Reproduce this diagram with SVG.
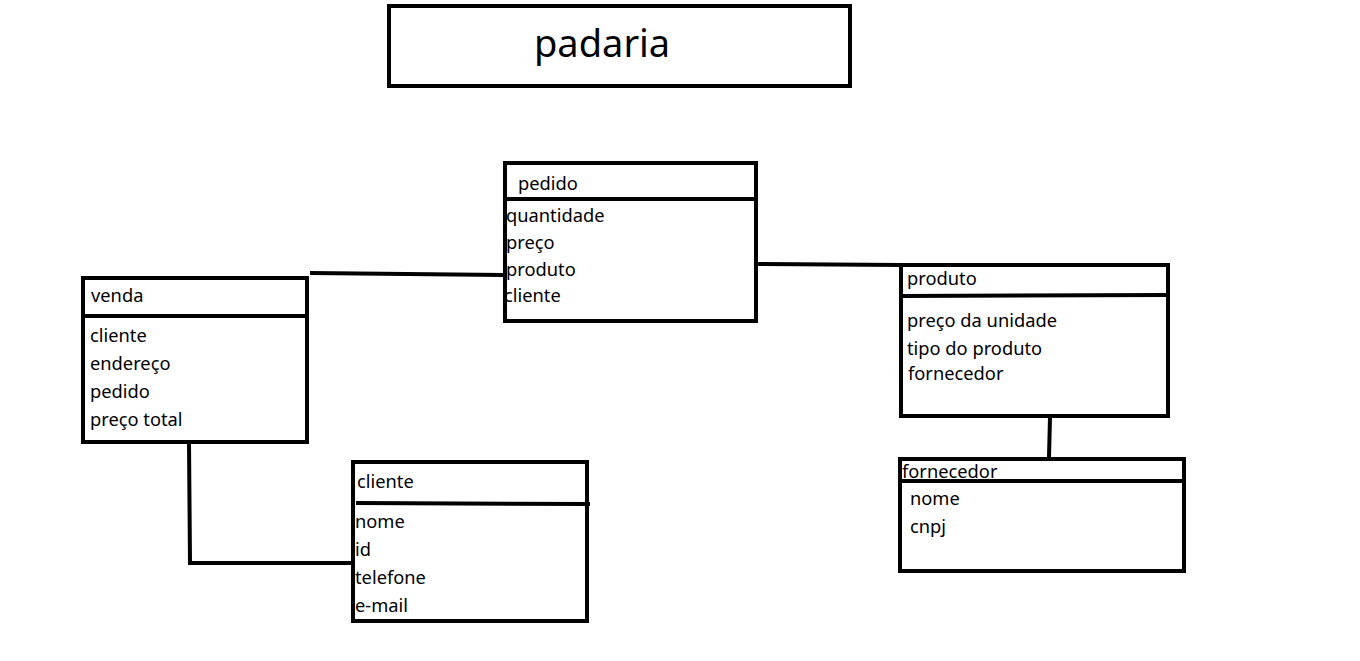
<svg xmlns="http://www.w3.org/2000/svg" width="1360" height="661" viewBox="0 0 1360 661">
<style>
.box{fill:none;stroke:#000;stroke-width:4}
.div{stroke:#000;stroke-width:4}
.ln{fill:none;stroke:#000;stroke-width:4}
text{font-family:"Noto Sans","DejaVu Sans",sans-serif;font-size:18.3px;fill:#000}
.title{font-size:38px}
</style>
<rect width="1360" height="661" fill="#fff"/>
<g id="title">
<rect class="box" x="389" y="6" width="461" height="80"/>
<text class="title" x="534" y="57">padaria</text>
</g>
<g id="connectors">
<polyline class="ln" points="310,273 503,275"/>
<polyline class="ln" points="758,264 902,265"/>
<polyline class="ln" points="189,443 190,563 352,563"/>
<polyline class="ln" points="1050,417 1049,457"/>
</g>
<g id="pedido">
<rect class="box" x="505" y="163" width="251" height="158"/>
<line class="div" x1="505" y1="199" x2="756" y2="199"/>
<text x="518" y="190">pedido</text>
<text x="506" y="222">quantidade</text>
<text x="506" y="249">preço</text>
<text x="506" y="276">produto</text>
<text x="504" y="302">cliente</text>
</g>
<g id="venda">
<rect class="box" x="83" y="278" width="224" height="164"/>
<line class="div" x1="83" y1="316" x2="307" y2="316"/>
<text x="91" y="302">venda</text>
<text x="90" y="342">cliente</text>
<text x="90" y="370">endereço</text>
<text x="90" y="398">pedido</text>
<text x="90" y="426">preço total</text>
</g>
<g id="cliente">
<rect class="box" x="353" y="462" width="234" height="159"/>
<line class="div" x1="356" y1="503" x2="590" y2="504"/>
<text x="357" y="488">cliente</text>
<text x="355" y="528">nome</text>
<text x="355" y="556">id</text>
<text x="355" y="584">telefone</text>
<text x="355" y="612">e-mail</text>
</g>
<g id="produto">
<rect class="box" x="901" y="265" width="267" height="151"/>
<line class="div" x1="901" y1="296" x2="1168" y2="295"/>
<text x="907" y="285">produto</text>
<text x="907" y="327">preço da unidade</text>
<text x="907" y="355">tipo do produto</text>
<text x="908" y="380">fornecedor</text>
</g>
<g id="fornecedor">
<rect class="box" x="900" y="459" width="284" height="112"/>
<line class="div" x1="900" y1="481" x2="1184" y2="481"/>
<text x="902" y="478">fornecedor</text>
<text x="910" y="505">nome</text>
<text x="910" y="533">cnpj</text>
</g>
</svg>
